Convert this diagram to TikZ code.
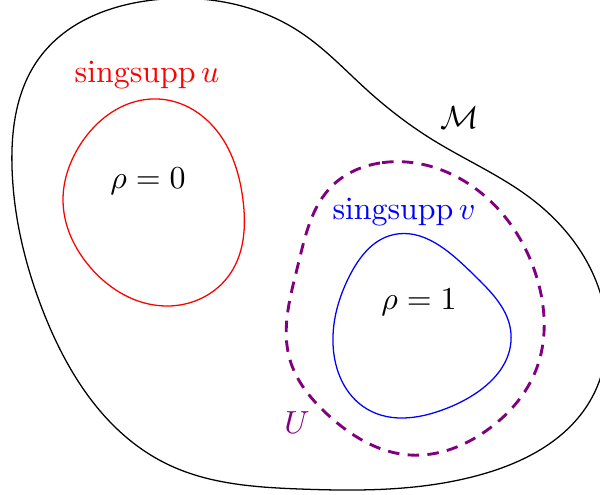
\documentclass[tikz,border=0pt]{standalone}
\usepackage{xcolor}
\usepackage{amsmath}
\usepackage{tikz}
\usetikzlibrary{hobby}
\definecolor{SuppRed}{HTML}{FF0000}
\definecolor{SuppBlue}{HTML}{0000FF}
\definecolor{NbhdPurple}{HTML}{800080}
\DeclareMathOperator{\singsupp}{singsupp}

\begin{document}
\begin{tikzpicture}[x=0.313pt, y=-0.313pt,
    manifold/.style={draw=black, line width=0.4pt},
    suppcurve/.style={line width=0.4pt},
    nbhd/.style={draw=NbhdPurple, line width=0.9pt,
                 dash pattern=on 3.6pt off 2.6pt}]
  \useasboundingbox (0,0) rectangle (600,494);

  % outer manifold
  \draw[manifold, use Hobby shortcut, closed=true]
      (153,0) .. (40,57) .. (12,167) .. (43,311) .. (167,464) .. (300,489)
      .. (483,474) .. (590,401) .. (606,320) .. (533,200) .. (433,140)
      .. (367,90) .. (300,32);

  % singular support of u
  \draw[suppcurve, draw=SuppRed, use Hobby shortcut, closed=true]
      (158,99) .. (77,150) .. (63,200) .. (90,267) .. (167,306)
      .. (230,274) .. (243,200) .. (210,123);

  % neighbourhood U
  \draw[nbhd, use Hobby shortcut, closed=true]
      (380,163) .. (333,185) .. (298,265) .. (290,360) .. (327,414)
      .. (410,455) .. (490,428) .. (536,370) .. (536,275) .. (480,192);

  % singular support of v
  \draw[suppcurve, draw=SuppBlue, use Hobby shortcut, closed=true]
      (392,235) .. (350,275) .. (333,344) .. (367,409) .. (450,407)
      .. (511,334) .. (473,274);

  \node (labelU)   [text=SuppRed]    at (147,75)  {$\singsupp u$};
  \node (rhozero)                    at (148,181) {$\rho = 0$};
  \node (labelM)                     at (460,118) {$\mathcal{M}$};
  \node (labelV)   [text=SuppBlue]   at (404,212) {$\singsupp v$};
  \node (rhoone)                     at (419,302) {$\rho = 1$};
  \node (labelNb)  [text=NbhdPurple] at (297,423) {$U$};
\end{tikzpicture}
\end{document}
